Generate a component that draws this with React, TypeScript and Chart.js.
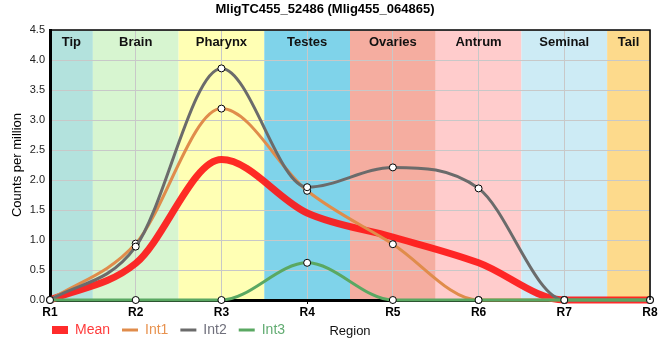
import React, { useEffect, useRef } from 'react';
import { Chart, registerables } from 'chart.js';

Chart.register(...registerables);

const regions = ['R1', 'R2', 'R3', 'R4', 'R5', 'R6', 'R7', 'R8'];
const tissues = ['Tip', 'Brain', 'Pharynx', 'Testes', 'Ovaries', 'Antrum', 'Seminal', 'Tail'];
const tissueColors = ['#b3e2dd', '#d7f5d0', '#ffffb4', '#7fd3ea', '#f5ada0', '#ffcccc', '#cdebf5', '#fdda8c'];

const meanValues = [0, 0.61, 2.34, 1.45, 1.05, 0.62, 0, 0];
const int1Values = [0, 0.94, 3.19, 1.82, 0.93, 0, 0, 0];
const int2Values = [0, 0.89, 3.86, 1.88, 2.21, 1.86, 0, 0];
const int3Values = [0, 0, 0, 0.62, 0, 0, 0, 0];

const seriesNames = ['Mean', 'Int1', 'Int2', 'Int3'];
const seriesColors = ['rgba(255,20,20,0.9)', '#e08c4b', '#6b6b6b', '#5aa862'];
const legendTextColors = ['#ff3b3b', '#e8924f', '#70707c', '#62ac72'];

const chartTitle = 'MligTC455_52486 (Mlig455_064865)';
const yTitle = 'Counts per million';
const xTitle = 'Region';

const FONT = "'Liberation Sans', Arial, sans-serif";

const decorPlugin = {
  id: 'decor',
  afterLayout(chart: any) {
    const lg = chart.legend;
    if (lg) {
      const h = lg.bottom - lg.top;
      lg.left = 40;
      lg.top = 311;
      lg.bottom = 311 + h;
    }
  },
  beforeDraw(chart: any) {
    const { ctx, chartArea: a, scales } = chart;
    const x = scales.x;
    ctx.save();
    tissues.forEach((_, i) => {
      const l = Math.max(a.left, x.getPixelForValue(i - 0.5));
      const r = Math.min(a.right, x.getPixelForValue(i + 0.5));
      ctx.fillStyle = tissueColors[i];
      ctx.fillRect(l, a.top, r - l, a.bottom - a.top);
    });
    ctx.restore();
  },
  afterDraw(chart: any) {
    const { ctx, chartArea: a, scales } = chart;
    const x = scales.x;
    ctx.save();
    ctx.font = `bold 13px ${FONT}`;
    ctx.fillStyle = '#111';
    ctx.textAlign = 'center';
    ctx.textBaseline = 'middle';
    tissues.forEach((t, i) => {
      const l = Math.max(a.left, x.getPixelForValue(i - 0.5));
      const r = Math.min(a.right, x.getPixelForValue(i + 0.5));
      ctx.fillText(t, (l + r) / 2, a.top + 12);
    });
    ctx.font = `13px ${FONT}`;
    ctx.fillText(xTitle, (a.left + a.right) / 2, 331);
    ctx.strokeStyle = '#000';
    ctx.lineWidth = 1.5;
    ctx.beginPath();
    ctx.moveTo(a.left, a.top);
    ctx.lineTo(a.right, a.top);
    ctx.lineTo(a.right, a.bottom);
    ctx.stroke();
    ctx.restore();
  },
};

export default function App() {
  const ref = useRef<HTMLCanvasElement>(null);
  useEffect(() => {
    document.body.style.margin = '0';
    const values = [meanValues, int1Values, int2Values, int3Values];
    const datasets = values.map((data, i) => ({
      label: seriesNames[i],
      data,
      borderColor: seriesColors[i],
      backgroundColor: seriesColors[i],
      borderWidth: i === 0 ? 7 : 3,
      pointRadius: i === 0 ? 0 : 3.5,
      pointBackgroundColor: '#ffffff',
      pointBorderColor: '#000000',
      pointBorderWidth: 1,
      cubicInterpolationMode: 'monotone' as const,
      fill: false,
      clip: false as any,
      order: 4 - i,
    }));
    const chart = new Chart(ref.current!, {
      type: 'line',
      data: { labels: regions, datasets },
      options: {
        animation: false,
        responsive: false,
        events: [],
        layout: { padding: { left: 0, right: 10, top: 0, bottom: 0 } },
        plugins: {
          title: {
            display: true,
            text: chartTitle,
            color: '#000',
            font: { size: 13, weight: 'bold', family: FONT },
            padding: { top: 2, bottom: 12.4 },
          },
          legend: {
            display: true,
            position: 'bottom',
            align: 'start',
            labels: {
              usePointStyle: true,
              pointStyleWidth: 16,
              padding: 12,
              font: { size: 14, family: FONT },
              generateLabels: (c: any) =>
                c.data.datasets.map((ds: any, i: number) => ({
                  text: ds.label,
                  fillStyle: seriesColors[i],
                  strokeStyle: seriesColors[i],
                  lineWidth: i === 0 ? 8 : 3,
                  lineCap: 'butt',
                  pointStyle: 'line',
                  fontColor: legendTextColors[i],
                  hidden: false,
                  datasetIndex: i,
                })),
            },
          },
          tooltip: { enabled: false },
        },
        scales: {
          x: {
            type: 'category',
            offset: false,
            grid: { color: '#c8c8c8', lineWidth: 1, drawTicks: true, tickLength: 4, tickColor: '#000' },
            border: { color: '#000', width: 3 },
            ticks: { color: '#000', font: { size: 12, weight: 'bold', family: FONT }, padding: 1, autoSkip: false, maxRotation: 0 },
            afterFit: (s: any) => { s.height = 24; },
          },
          y: {
            min: 0,
            max: 4.5,
            ticks: {
              stepSize: 0.5,
              callback: (v: any) => Number(v).toFixed(1),
              color: '#222',
              font: { size: 11, family: FONT },
              padding: 5,
            },
            grid: { color: '#c8c8c8', lineWidth: 1, drawTicks: false },
            border: { color: '#000', width: 3 },
            title: {
              display: true,
              text: yTitle,
              color: '#000',
              font: { size: 13, family: FONT },
              padding: { top: 10, bottom: 0 },
            },
            afterFit: (s: any) => { s.width = 50; },
          },
        },
      },
      plugins: [decorPlugin],
    } as any);
    return () => chart.destroy();
  }, []);
  return (
    <div style={{ width: 660, height: 360 }}>
      <canvas ref={ref} width={660} height={360} style={{ display: 'block' }} />
    </div>
  );
}
